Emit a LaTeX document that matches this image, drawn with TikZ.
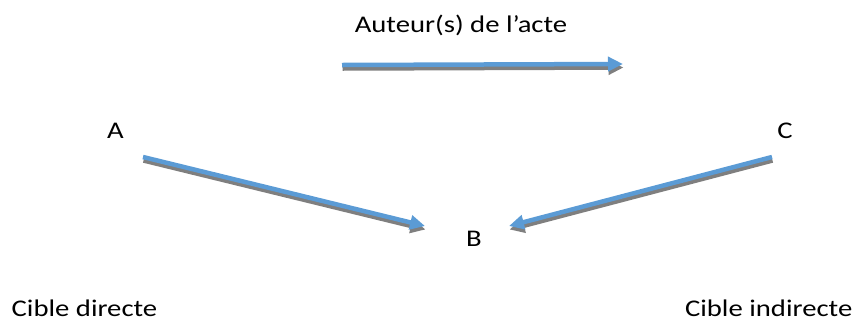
\documentclass[tikz,border=0pt]{standalone}
\usepackage{fontspec}
\setmainfont{Carlito}
\usetikzlibrary{arrows.meta}
\definecolor{arrowblue}{HTML}{5B9BD5}
\definecolor{arrowshade}{HTML}{7F7F7F}
% text is set a little wide
\newcommand{\widetext}[1]{\scalebox{1.2}[1]{#1}}
\tikzset{
  txt/.style={inner sep=0pt, anchor=base, font=\fontsize{24}{28}\selectfont},
  flow/.style={line width=4.5bp, -{Triangle[length=15bp,width=14bp]}},
  flowshade/.style={flow, draw=arrowshade, transform canvas={xshift=0.5bp, yshift=-3.5bp}},
  flowtop/.style={flow, draw=arrowblue},
}
\begin{document}
\begin{tikzpicture}[x=1bp,y=-1bp]
  \useasboundingbox (0,0) rectangle (858,321);
  % labels
  \node[txt] (auteur) at (461,32) {\widetext{Auteur(s) de l’acte}};
  \node[txt] (a) at (115.5,138) {\widetext{A}};
  \node[txt] (c) at (785,138) {\widetext{C}};
  \node[txt] (b) at (474,246) {\widetext{B}};
  \node[txt, anchor=base west] (directe) at (11.5,316) {\widetext{Cible directe}};
  \node[txt, anchor=base east] (indirecte) at (852.5,316) {\widetext{Cible indirecte}};
  % arrow end points
  \coordinate (top1) at (342,65);
  \coordinate (top2) at (623,64);
  \coordinate (a1) at (143,157);
  \coordinate (a2) at (425,226);
  \coordinate (c1) at (772,157);
  \coordinate (c2) at (509,226);
  % shadows
  \draw[flowshade] (top1) -- (top2);
  \draw[flowshade] (a1) -- (a2);
  \draw[flowshade] (c1) -- (c2);
  % arrows
  \draw[flowtop] (top1) -- (top2);
  \draw[flowtop] (a1) -- (a2);
  \draw[flowtop] (c1) -- (c2);
\end{tikzpicture}
\end{document}
